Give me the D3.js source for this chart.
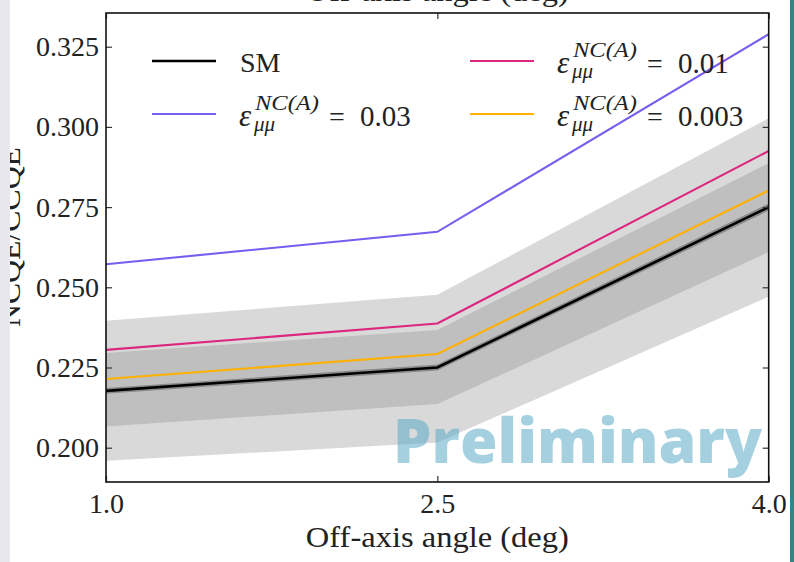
<!DOCTYPE html>
<meta charset="utf-8">
<head>
  <title>NCQE/CCQE vs off-axis angle</title>
</head>
<style>
body { margin: 0; background: #fff; }
svg { display: block; }
.tick line { stroke: #333; stroke-width: 1.2; }
.lab { font-family: "Liberation Serif", serif; font-size: 28px; fill: #222; }
</style>
<body>
<svg width="794" height="562"></svg>
<script src="https://cdnjs.cloudflare.com/ajax/libs/d3/7.8.5/d3.min.js"></script>
<script>
// values
var angles = [1.0, 2.5, 4.0];
var smValues = [0.2177, 0.2250, 0.2750];
var eps003Values = [0.2572, 0.2673, 0.3289];
var eps001Values = [0.2305, 0.2387, 0.2925];
var eps0003Values = [0.2214, 0.2292, 0.2802];
var outerLow = [0.1959, 0.2016, 0.2471];
var outerHigh = [0.2396, 0.2477, 0.3027];
var innerLow = [0.2066, 0.2136, 0.2610];
var innerHigh = [0.2295, 0.2367, 0.2887];
var statLow = [0.2168, 0.2241, 0.2739];
var statHigh = [0.2186, 0.2259, 0.2761];
var xTicks = [1.0, 2.5, 4.0];
var yTicks = [0.200, 0.225, 0.250, 0.275, 0.300, 0.325];
var legendLabels = ["SM", "0.03", "0.01", "0.003"];

var series = [
  {values: smValues, color: "#000000", width: 2.6},
  {values: eps003Values, color: "#785ef0", width: 2.1},
  {values: eps001Values, color: "#dc267f", width: 2.1},
  {values: eps0003Values, color: "#ffb000", width: 2.1}
];
var bands = [
  {lo: outerLow, hi: outerHigh, color: "#d9d9d9"},
  {lo: innerLow, hi: innerHigh, color: "#bfbfbf"},
  {lo: statLow, hi: statHigh, color: "#8a8a8a"}
];

var plotLeft = 106, plotRight = 768.7, plotTop = 13, plotBottom = 482;
var svg = d3.select("svg");

var x = d3.scaleLinear().domain([1, 4]).range([plotLeft, plotRight]);
var y = d3.scaleLinear().domain([0.2, 0.325]).range([447.7, 46.7]);

svg.append("clipPath").attr("id", "clip")
  .append("rect").attr("x", plotLeft).attr("y", plotTop)
  .attr("width", plotRight - plotLeft).attr("height", plotBottom - plotTop);

var plot = svg.append("g").attr("clip-path", "url(#clip)");

var area = d3.area()
  .x(function(d, i){ return x(angles[i]); })
  .y0(function(d){ return y(d[0]); })
  .y1(function(d){ return y(d[1]); });

bands.forEach(function(b){
  plot.append("path")
    .datum(b.lo.map(function(v, i){ return [v, b.hi[i]]; }))
    .attr("fill", b.color)
    .attr("d", area);
});

var line = d3.line()
  .x(function(d, i){ return x(angles[i]); })
  .y(function(d){ return y(d); });

// coloured lines first, SM on top
series.slice(1).concat(series.slice(0, 1)).forEach(function(s){
  plot.append("path")
    .datum(s.values)
    .attr("fill", "none")
    .attr("stroke", s.color)
    .attr("stroke-width", s.width)
    .attr("d", line);
});

// watermark
svg.append("text")
  .attr("x", 393).attr("y", 463)
  .attr("textLength", 369).attr("lengthAdjust", "spacingAndGlyphs")
  .style("font-family", "'Open Sans', sans-serif")
  .style("font-weight", 800).style("font-size", "62px")
  .attr("fill", "#5aa9c4").attr("fill-opacity", 0.55)
  .text("Preliminary");

function serifTicks(g) {
  g.select(".domain").remove();
  g.attr("font-family", "'Liberation Serif', serif").attr("font-size", 28);
  g.selectAll(".tick text").attr("fill", "#222");
}

// axes with inward ticks
svg.append("g").attr("transform", "translate(" + plotLeft + ",0)")
  .call(d3.axisLeft(y).tickValues(yTicks).tickSize(-6).tickPadding(7).tickFormat(d3.format(".3f")))
  .call(serifTicks);
svg.append("g").attr("transform", "translate(" + plotRight + ",0)")
  .call(d3.axisRight(y).tickValues(yTicks).tickSize(-6).tickFormat(""))
  .call(serifTicks);
svg.append("g").attr("transform", "translate(0," + plotBottom + ")")
  .call(d3.axisBottom(x).tickValues(xTicks).tickSize(-6).tickPadding(11).tickFormat(d3.format(".1f")))
  .call(serifTicks);
svg.append("g").attr("transform", "translate(0," + plotTop + ")")
  .call(d3.axisTop(x).tickValues(xTicks).tickSize(-6).tickFormat(""))
  .call(serifTicks);

svg.append("rect")
  .attr("x", plotLeft).attr("y", plotTop)
  .attr("width", plotRight - plotLeft).attr("height", plotBottom - plotTop)
  .attr("fill", "none").attr("stroke", "#111").attr("stroke-width", 1.6);

// axis labels
svg.append("text").attr("class", "lab")
  .attr("x", x(2.5)).attr("y", 547).attr("text-anchor", "middle")
  .style("font-size", "30px")
  .attr("textLength", 263).attr("lengthAdjust", "spacingAndGlyphs")
  .text("Off-axis angle (deg)");
svg.append("text").attr("class", "lab")
  .attr("x", x(2.5)).attr("y", 1).attr("text-anchor", "middle")
  .style("font-size", "30px")
  .attr("textLength", 263).attr("lengthAdjust", "spacingAndGlyphs")
  .text("Off-axis angle (deg)");
svg.append("text").attr("class", "lab")
  .attr("transform", "translate(20,237) rotate(-90)")
  .attr("text-anchor", "middle")
  .style("font-size", "30px")
  .attr("textLength", 180).attr("lengthAdjust", "spacingAndGlyphs")
  .text("NCQE/CCQE");

// legend
var legendPos = [[152, 61], [152, 114], [470, 61], [470, 114]];
series.forEach(function(s, i){
  var g = svg.append("g").attr("transform", "translate(" + legendPos[i][0] + "," + legendPos[i][1] + ")");
  g.append("line").attr("x1", 0).attr("x2", 64).attr("y1", 0).attr("y2", 0)
    .attr("stroke", s.color).attr("stroke-width", s.width);
  if (i === 0) {
    g.append("text").attr("class", "lab").attr("x", 88).attr("y", 11).text(legendLabels[i]);
    return;
  }
  g.append("text").attr("class", "lab").attr("x", 87).attr("y", 12)
    .style("font-style", "italic").style("font-size", "31px").text("\u03b5");
  g.append("text").attr("class", "lab").attr("x", 103).attr("y", -4)
    .style("font-style", "italic").style("font-size", "21px")
    .attr("textLength", 64).attr("lengthAdjust", "spacingAndGlyphs").text("NC(A)");
  g.append("text").attr("class", "lab").attr("x", 102).attr("y", 17)
    .style("font-style", "italic").style("font-size", "21px").text("\u03bc\u03bc");
  g.append("text").attr("class", "lab").attr("x", 177).attr("y", 12).text("=");
  g.append("text").attr("class", "lab").attr("x", 208).attr("y", 12)
    .style("font-size", "29px").text(legendLabels[i]);
});

// slide edges
svg.append("rect").attr("x", 0).attr("y", 0).attr("width", 10).attr("height", 562).attr("fill", "#e8e7ee");
svg.append("rect").attr("x", 790).attr("y", 0).attr("width", 4).attr("height", 562).attr("fill", "#2b8a83");
</script>
</body>
</html>
